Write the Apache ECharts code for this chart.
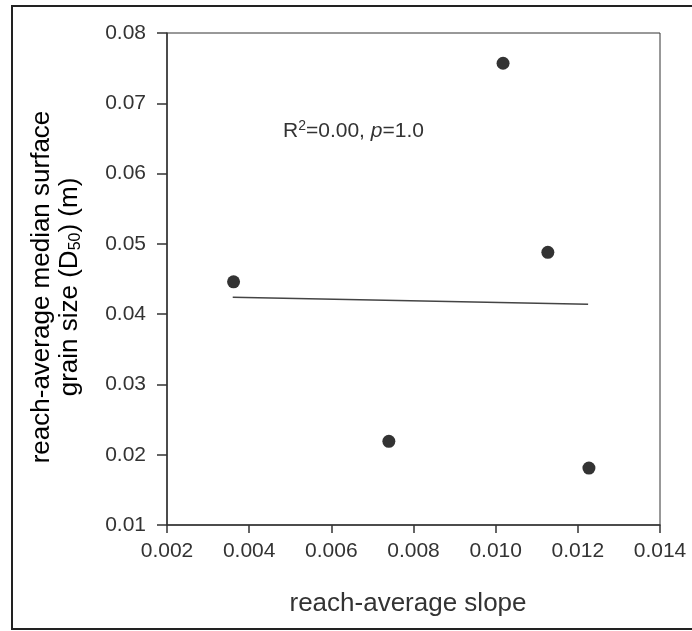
<!DOCTYPE html>
<html>
<head>
<meta charset="utf-8">
<script src="https://cdn.jsdelivr.net/npm/echarts@6/dist/echarts.min.js"></script>
<style>
  html, body { margin: 0; padding: 0; background: #fff; }
  #chart { width: 692px; height: 631px; }
</style>
</head>
<body>
<div id="chart"></div>
<script>
// Reach-average slope vs. reach-average median surface grain size (D50)
var slopes = [0.00362, 0.0074, 0.01018, 0.01127, 0.01227];
var grainSizes = [0.0446, 0.0219, 0.0757, 0.0488, 0.0181];

// Least-squares fit line end points
var fitSlopes = [0.0036, 0.01225];
var fitGrainSizes = [0.0424, 0.0414];

var xTicks = { min: 0.002, max: 0.014, step: 0.002 };
var yTicks = { min: 0.01, max: 0.08, step: 0.01 };

var FONT = '"Liberation Sans", Arial, sans-serif';
var TEXT = '#333';

var chart = echarts.init(document.getElementById('chart'), null, { renderer: 'canvas' });

var points = slopes.map(function (s, i) { return [s, grainSizes[i]]; });
var fitLine = fitSlopes.map(function (s, i) { return [s, fitGrainSizes[i]]; });

chart.setOption({
  animation: false,
  backgroundColor: '#fff',
  grid: {
    left: 167, top: 33, right: 32, bottom: 106,
    show: true, borderColor: '#333', borderWidth: 1, backgroundColor: 'transparent'
  },
  title: {
    left: 278, top: 114,
    text: '{a|R}{sup|2}{a|=0.00, }{i|p}{a|=1.0}',
    textStyle: {
      fontWeight: 'normal',
      rich: {
        a: { fontFamily: FONT, fontSize: 21, fontWeight: 'normal', color: TEXT },
        i: { fontFamily: FONT, fontSize: 21, fontWeight: 'normal', color: TEXT, fontStyle: 'italic' },
        sup: { fontFamily: FONT, fontSize: 14, fontWeight: 'normal', color: TEXT, verticalAlign: 'top', padding: [0, 0, 10, 0] }
      }
    }
  },
  xAxis: {
    type: 'value',
    min: xTicks.min, max: xTicks.max, interval: xTicks.step,
    axisLine: { show: true, lineStyle: { color: '#333', width: 1.5 } },
    axisTick: { show: true, length: 8, lineStyle: { color: '#333', width: 1.5 } },
    splitLine: { show: false },
    axisLabel: {
      margin: 16, fontFamily: FONT, fontSize: 21, color: TEXT,
      formatter: function (v) { return v.toFixed(3); }
    }
  },
  yAxis: {
    type: 'value',
    min: yTicks.min, max: yTicks.max, interval: yTicks.step,
    axisLine: { show: true, lineStyle: { color: '#333', width: 1.5 } },
    axisTick: { show: true, length: 10, lineStyle: { color: '#333', width: 1.5 } },
    splitLine: { show: false },
    axisLabel: {
      margin: 21, fontFamily: FONT, fontSize: 21, color: TEXT,
      formatter: function (v) { return v.toFixed(2); }
    }
  },
  graphic: [
    {
      type: 'polyline', z: -1, silent: true,
      shape: { points: [[700, 6], [12, 6], [12, 629], [700, 629]] },
      style: { fill: 'none', stroke: '#222', lineWidth: 2 }
    },
    {
      type: 'text', silent: true,
      x: 408, y: 604,
      style: {
        text: 'reach-average slope', font: '26px ' + FONT, fill: TEXT,
        textAlign: 'center', textVerticalAlign: 'middle'
      }
    },
    {
      type: 'text', silent: true,
      x: 56, y: 287, rotation: Math.PI / 2,
      style: {
        text: '{a|reach-average median surface}\n{a|grain size (D}{sub|50}{a|) (m)}',
        textAlign: 'center', textVerticalAlign: 'middle',
        rich: {
          a: { fontFamily: FONT, fontSize: 26, color: TEXT, lineHeight: 28, align: 'center' },
          sub: { fontFamily: FONT, fontSize: 16, color: TEXT, lineHeight: 28, verticalAlign: 'bottom', padding: [8, 0, 0, 0] }
        }
      }
    }
  ],
  series: [
    {
      type: 'line',
      data: fitLine,
      symbol: 'none',
      lineStyle: { color: '#444', width: 1.5 },
      silent: true
    },
    {
      type: 'scatter',
      data: points,
      symbol: 'circle',
      symbolSize: 13,
      itemStyle: { color: '#000' },
      silent: true
    }
  ]
});
</script>
</body>
</html>
